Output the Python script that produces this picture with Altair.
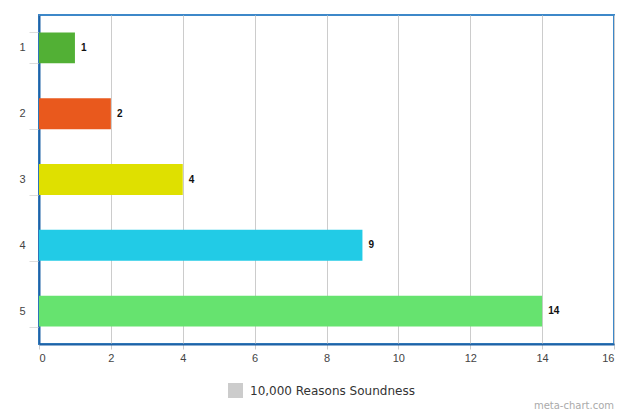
import altair as alt
import pandas as pd

categories = ["1", "2", "3", "4", "5"]
values = [1, 2, 4, 9, 14]
colors = ["#52b035", "#e9591d", "#dfe000", "#22cbe6", "#66e36f"]
series_name = "10,000 Reasons Soundness"
x_ticks = [0, 2, 4, 6, 8, 10, 12, 14, 16]

df = pd.DataFrame({"cat": categories, "value": values})

y_enc = alt.Y(
    "cat:N",
    sort=categories,
    scale=alt.Scale(paddingInner=0.53, paddingOuter=0.265),
    axis=alt.Axis(
        title=None,
        tickBand="extent",
        tickSize=10,
        tickColor="#dddddd",
        tickWidth=1,
        labelFontSize=11,
        labelColor="#444444",
        labelFont="Liberation Sans",
        labelPadding=4,
        labelAngle=0,
        domainColor="#1f62a6",
        domainWidth=2,
        grid=False,
    ),
)

x_enc = alt.X(
    "value:Q",
    scale=alt.Scale(domain=[0, 16], nice=False),
    axis=alt.Axis(
        title=None,
        values=x_ticks,
        grid=True,
        gridColor="#cccccc",
        gridWidth=1,
        tickColor="#cccccc",
        tickSize=5,
        labelFontSize=11,
        labelColor="#444444",
        labelFont="Liberation Sans",
        labelPadding=3,
        domainColor="#1f62a6",
        domainWidth=2,
    ),
)

bars = alt.Chart(df).mark_bar().encode(
    y=y_enc,
    x=x_enc,
    fill=alt.Fill("cat:N", scale=alt.Scale(domain=categories, range=colors), legend=None),
)

labels = alt.Chart(df).mark_text(
    align="left", baseline="middle", dx=6, fontWeight="bold", fontSize=10,
    font="Liberation Sans", color="#111111",
).encode(y=alt.Y("cat:N", sort=categories), x="value:Q", text="value:Q")

legend_layer = alt.Chart(pd.DataFrame({"s": [series_name]})).mark_square(opacity=0).encode(
    color=alt.Color(
        "s:N",
        scale=alt.Scale(domain=[series_name], range=["#cccccc"]),
        legend=alt.Legend(
            title=None,
            orient="none",
            legendX=189,
            legendY=368,
            symbolType="square",
            symbolSize=225,
            symbolStrokeWidth=0,
            symbolOpacity=1,
            symbolFillColor="#cccccc",
            labelFontSize=12,
            labelColor="#333333",
            labelFont="DejaVu Sans",
            labelOffset=7,
            labelLimit=0,
            padding=0,
        ),
    ),
    x=alt.value(0),
    y=alt.value(0),
)

watermark = alt.Chart(pd.DataFrame({"t": ["meta-chart.com"]})).mark_text(
    align="right", baseline="bottom", fontSize=10, color="#aaaaaa", font="DejaVu Sans",
).encode(x=alt.value(575), y=alt.value(396), text="t:N")

chart = alt.layer(bars, labels, legend_layer, watermark).properties(
    width=575,
    height=329,
    autosize=alt.AutoSizeParams(type="none"),
    padding={"left": 31, "top": 7, "right": 1, "bottom": 67},
    background="white",
).configure_view(
    stroke="#3d88c9", strokeWidth=2, fill="white"
)

chart.save("out.html", embed_options={"renderer": "svg", "actions": False})
